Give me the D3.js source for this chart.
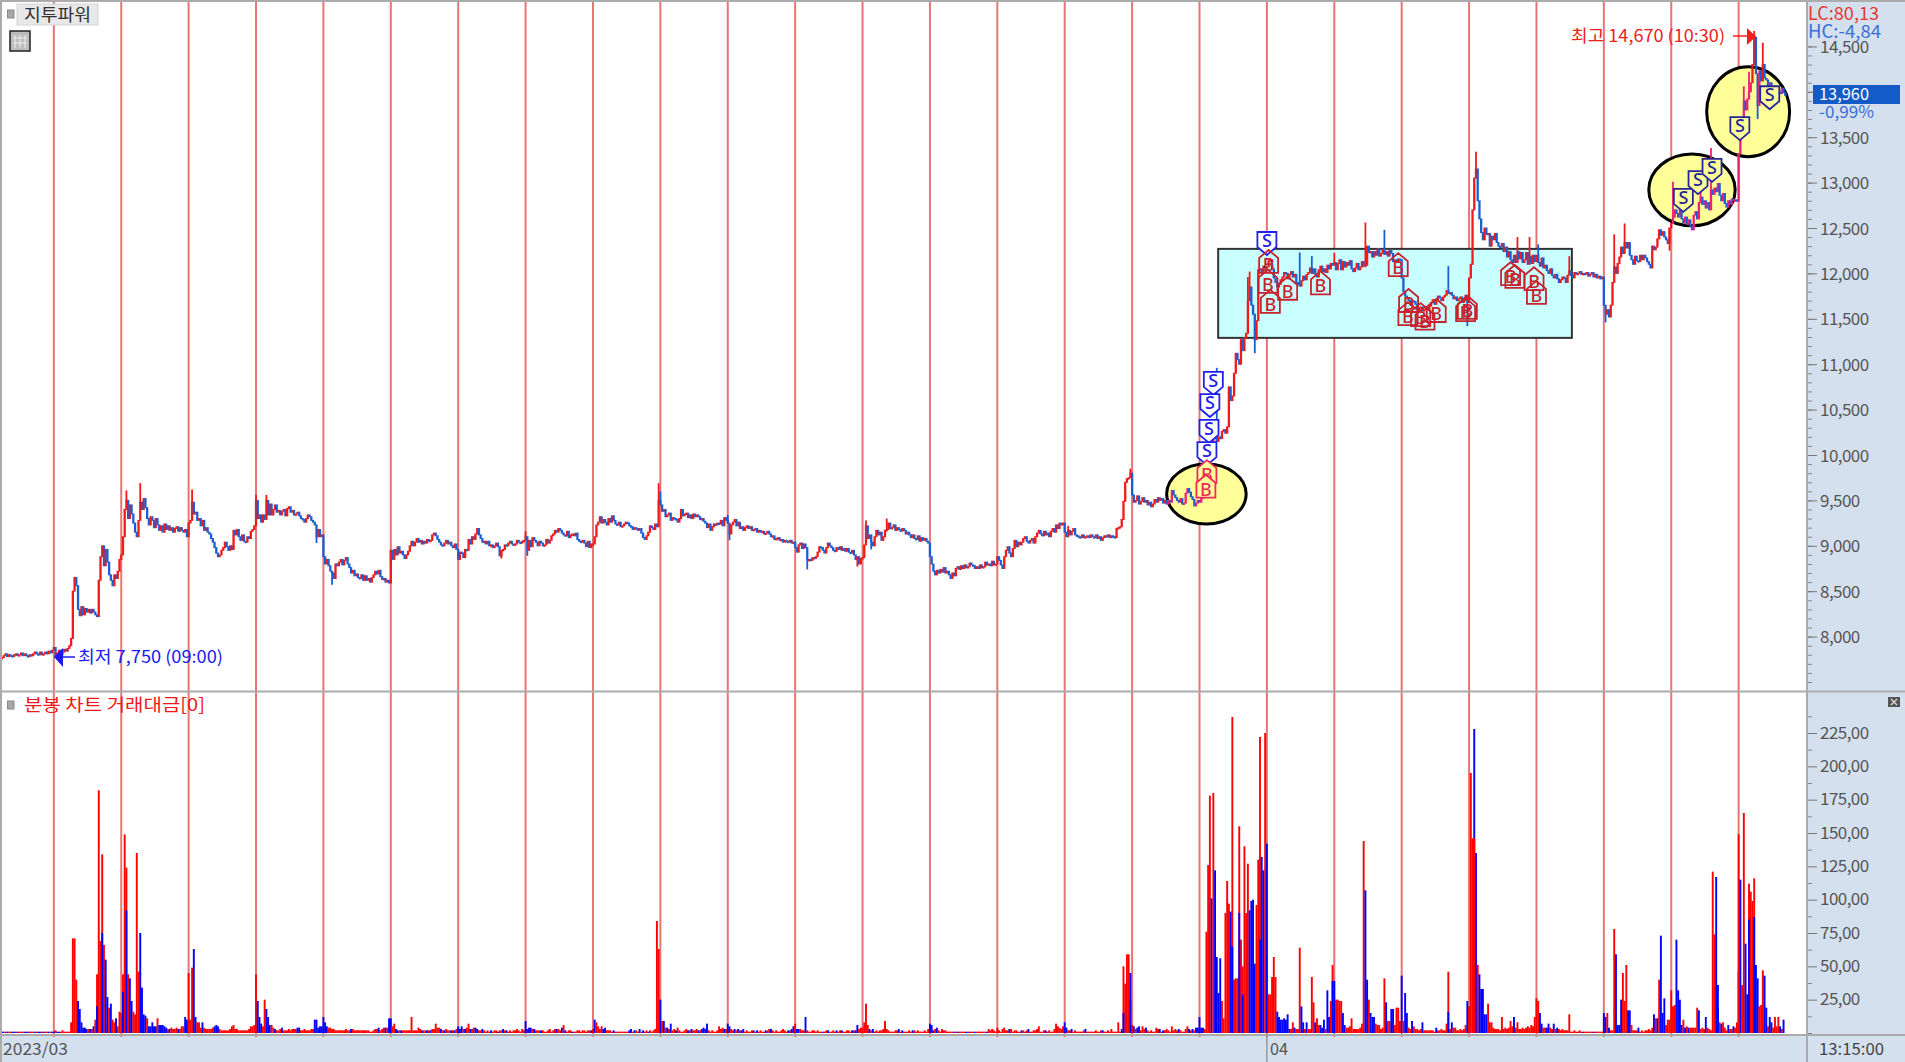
<!DOCTYPE html>
<html><head><meta charset="utf-8"><style>html,body{margin:0;padding:0;background:#fff;overflow:hidden}svg{display:block}text{font-family:"Noto Sans CJK KR","Noto Sans",sans-serif;font-weight:400}</style>
<script src="https://cdn.jsdelivr.net/npm/d3@7/dist/d3.min.js"></script></head><body><svg id="c" width="1905" height="1062"></svg>
<script>
const title="지투파워", volTitle="분봉 차트 거래대금[0]", hiLabel="최고 14,670 (10:30)", loLabel="최저 7,750 (09:00)";
const lastPrice="13,960", lastPct="-0,99%", lcLabel="LC:80,13", hcLabel="HC:-4,84", monthA="2023/03", monthB="04", timeLabel="13:15:00";
const priceMajor=[8000,8500,9000,9500,10000,10500,11000,11500,12000,12500,13000,13500,14000,14500];
const volMajor=[25,50,75,100,125,150,175,200,225];
const barsFirstDay=30, barsPerDay=39, monthBDay=19;
const p00=[7770,7790,7810,7780,7800,7790,7780,7800,7810,7790,7800,7820,7790,7810,7790,7780,7800,7790,7810,7830,7810,7800,7830,7800,7810,7830,7810,7840,7820,7850];
const p01=[7880,7780,7820,7850,7800,7830,7860,7840,7870,7900,7980,8500,8650,8560,8300,8230,8330,8240,8310,8270,8300,8260,8300,8270,8240,8220,8620,8880,9000,8780,8960,8820,8680,8620,8560,8680,8640,8720,8850];
const p02=[8900,9100,9400,9500,9300,9450,9350,9250,9150,9100,9280,9480,9400,9520,9420,9300,9230,9320,9280,9200,9300,9230,9170,9220,9150,9240,9180,9220,9170,9200,9150,9190,9210,9160,9200,9170,9150,9180,9100];
const p03=[9250,9280,9480,9350,9370,9280,9300,9220,9280,9170,9200,9150,9130,9080,9040,8980,8920,8880,8900,8950,8980,9040,8990,8950,9000,8960,9170,9120,9180,9100,9060,9120,9050,9040,9100,9080,9160,9180,9220];
const p04=[9500,9300,9340,9260,9340,9290,9500,9340,9460,9340,9400,9450,9370,9390,9340,9380,9400,9330,9410,9430,9370,9390,9340,9350,9370,9330,9300,9290,9260,9300,9340,9320,9280,9260,9230,9100,9180,9100,9120];
const p05=[8880,8800,8850,8780,8720,8700,8640,8800,8780,8820,8850,8790,8840,8870,8800,8760,8700,8730,8670,8690,8650,8640,8680,8620,8670,8620,8640,8600,8650,8680,8720,8690,8730,8660,8630,8640,8600,8620,8590];
const p06=[8950,8850,8960,8900,8990,8920,8940,8900,8860,8900,8940,9000,9050,9000,9040,9080,9040,9060,9020,9050,9030,9070,9050,9060,9120,9140,9110,9070,9040,9010,9000,9030,9060,9020,9040,9000,8980,9020,8960];
const p07=[8850,8930,8920,8870,8960,8950,9070,9020,9100,9070,9130,9190,9120,9080,9040,9050,9020,9050,9000,9010,8980,9000,9030,8990,8890,8950,8960,9010,9000,9030,9050,9020,9010,9020,9060,9040,9030,9050,9060];
const p08=[9100,8950,9060,8990,9090,9060,9040,9000,9050,9030,9000,9010,9070,9030,9060,9110,9130,9170,9150,9190,9170,9140,9120,9110,9160,9090,9120,9130,9110,9140,9070,9050,9040,9060,9030,8990,9050,8980,9020];
const p09=[9020,9100,9230,9260,9320,9250,9290,9260,9230,9300,9260,9330,9280,9240,9230,9260,9210,9220,9240,9260,9250,9220,9210,9180,9200,9190,9170,9190,9140,9090,9070,9110,9150,9220,9200,9180,9240,9210,9500];
const p10=[9450,9380,9400,9320,9340,9360,9280,9310,9300,9290,9260,9300,9400,9330,9350,9360,9310,9340,9300,9350,9320,9340,9320,9290,9300,9270,9250,9200,9240,9170,9210,9240,9230,9250,9240,9280,9220,9310,9280];
const p11=[9250,9130,9230,9260,9290,9220,9260,9190,9210,9170,9200,9220,9190,9210,9170,9180,9190,9150,9170,9150,9160,9130,9140,9160,9130,9100,9110,9070,9080,9090,9060,9070,9040,9060,9050,9040,9060,9030,9040];
const p12=[8980,8930,9010,9030,8970,9020,8980,8850,8850,8840,8870,8860,8880,8930,8990,8980,8950,8920,8980,9030,9000,8980,8950,8940,8980,8960,8990,8950,8970,8940,8970,8930,8920,8950,8900,8850,8880,8800,8860];
const p13=[8870,9010,9220,9080,9120,9040,9000,9100,9170,9120,9150,9060,9100,9170,9180,9250,9190,9200,9230,9170,9200,9180,9160,9190,9170,9130,9150,9120,9090,9120,9080,9070,9110,9050,9090,9060,9080,9050,9030];
const p14=[8880,8800,8720,8680,8730,8700,8740,8710,8760,8700,8720,8680,8640,8700,8670,8750,8770,8740,8780,8750,8790,8760,8770,8810,8790,8780,8750,8770,8750,8790,8760,8770,8820,8790,8800,8780,8830,8790,8800];
const p15=[8880,8840,8790,8750,8880,8950,8990,8920,8880,8970,9060,8990,9040,9010,9040,9080,9100,9050,9030,9060,9080,9030,9100,9140,9170,9130,9110,9160,9120,9140,9100,9160,9190,9150,9230,9190,9250,9230,9250];
const p16=[9150,9100,9170,9120,9160,9190,9120,9110,9100,9090,9120,9090,9100,9110,9090,9120,9100,9090,9120,9080,9100,9060,9090,9110,9100,9120,9090,9110,9100,9090,9190,9200,9210,9290,9490,9700,9740,9750,9800];
const p17=[9560,9480,9500,9550,9460,9490,9530,9480,9500,9450,9480,9430,9460,9510,9480,9530,9500,9520,9470,9500,9460,9500,9480,9610,9560,9530,9500,9480,9520,9460,9470,9580,9630,9590,9540,9510,9440,9470,9500];
const p18=[9480,9520,9560,9620,9700,9800,9950,10100,10180,10200,10150,10200,10180,10260,10280,10240,10310,10750,10600,10650,10900,11120,11050,11000,11270,11150,11290,11340,11700,11850,11650,11550,11270,11480,12040,12050,12000,12080,12070];
const p19=[12070,12140,12150,12050,11950,11900,11850,11880,11930,11960,12010,12000,11940,11990,12020,11960,11990,11900,11880,11860,11920,11970,11930,11990,12010,12060,12000,12050,11990,11960,12040,12080,12020,12050,12010,12090,12050,12110,12090];
const p20=[12120,12040,12110,12150,12040,12130,12070,12120,12090,12140,12050,12020,12060,12110,12040,12070,12130,12080,12090,12300,12230,12240,12180,12240,12200,12270,12190,12220,12260,12210,12240,12190,12260,12220,12130,12150,12120,12160,12150];
const p21=[11950,11800,11750,11730,11700,11650,11700,11690,11660,11600,11620,11630,11590,11600,11620,11600,11640,11680,11710,11660,11700,11750,11730,11700,11740,11760,11810,11780,11790,11760,11720,11740,11700,11720,11740,11680,11700,11760,11680];
const p22=[11950,12100,12700,13050,13150,12800,12600,12450,12370,12500,12430,12440,12300,12410,12370,12440,12340,12300,12290,12330,12240,12290,12180,12240,12150,12120,12200,12120,12240,12160,12230,12120,12150,12230,12100,12190,12110,12200,12130];
const p23=[12200,12120,12080,12170,12060,12090,12030,12000,12050,11980,11950,11990,11940,11900,11930,11960,11950,11900,11980,12030,11980,11950,12010,11990,12000,12020,11990,12000,11990,12010,11970,11990,12010,11960,11990,11950,11970,11940,11960];
const p24=[11650,11550,11600,11520,11650,11900,12070,12000,12110,12180,12290,12220,12340,12280,12340,12200,12150,12100,12190,12140,12130,12200,12150,12200,12170,12130,12100,12060,12300,12260,12290,12380,12480,12420,12460,12400,12370,12330,12500];
const p25=[12550,12620,12700,12660,12620,12700,12600,12560,12620,12540,12590,12520,12480,12640,12680,12600,12780,12840,12760,12800,12720,12780,12700,12920,12870,12940,12900,12990,12860,12800,12880,12770,12730,12800,12760,12820,12800,12810,12800];
const p26=[13320,13500,13700,13900,13800,13920,14000,14100,14300,14600,14200,13850,14230,14120,14300,14150,14130,14050,14100,14020,14060,14000,13940,14000,13980,14040,13990,13960];
const priceDays=[p00,p01,p02,p03,p04,p05,p06,p07,p08,p09,p10,p11,p12,p13,p14,p15,p16,p17,p18,p19,p20,p21,p22,p23,p24,p25,p26];
// extreme prints [day, bar, price]
const wicks=[[2,3,9610],[2,11,9690],[3,2,9620],[4,0,9560],[4,6,9560],[4,35,9030],[5,5,8570],[6,0,8800],[7,25,8860],[8,0,9160],[8,1,8890],[9,38,9690],[10,0,9600],[11,0,9340],[11,1,9060],[12,7,8740],[12,36,8770],[13,2,9280],[13,14,9300],[13,5,8960],[14,12,8640],[16,38,9850],[16,2,9220],[18,28,11960],[18,17,10450],[18,24,11080],[18,32,11120],[18,10,10960],[18,29,12020],[19,19,12230],[19,26,12190],[20,0,12230],[20,18,12560],[20,29,12480],[21,27,12080],[21,38,11420],[22,4,13340],[22,28,12400],[22,35,12400],[23,19,12190],[23,1,12320],[24,6,12430],[24,12,12550],[24,1,11460],[24,38,12250],[25,1,13010],[25,23,13380],[25,17,12960],[26,9,14670],[26,11,13700],[26,14,14540],[26,6,14220],[26,3,14060],[26,0,13280]];
// volume: positive = up bar (red), negative = down bar (blue)
const v00=[-1,-1,1,-1,1,1,-1,-1,1,-1,1,1,1,-1,-1,1,-1,1,1,-1,1,-1,-1,1,-1,1,1,-1,1,-1];
const v01=[-1,2,-1,-1,1,2,1,1,1,1,8,71,71,40,-24,-18,-8,-4,-4,-3,3,-3,3,-5,10,44,182,69,134,66,-55,-27,19,-22,10,8,-11,5,16];
const v02=[15,44,149,124,44,-41,-24,16,14,135,46,-75,-34,-14,-13,11,-5,-5,-8,-5,-5,11,-6,-6,-6,-5,-4,3,-3,4,3,3,4,-3,3,5,5,-12,-10];
const v03=[45,10,49,-63,-12,8,8,4,-8,4,3,3,3,3,4,-5,-6,-5,3,2,2,2,2,2,3,5,6,3,3,2,2,2,2,2,2,3,5,5,6];
const v04=[44,-24,-12,-7,5,25,-18,-12,-6,6,4,-3,2,2,3,-4,2,2,2,3,2,3,3,3,-4,-4,2,2,3,2,2,2,3,3,-10,-10,-4,-5,-5];
const v05=[-12,-8,-5,4,4,3,3,2,2,2,2,2,2,3,2,2,-3,3,2,2,2,2,2,2,2,2,2,1,1,2,3,3,-4,2,3,4,-4,4,-11];
const v06=[-11,5,7,-3,-2,2,-2,2,2,2,2,2,12,2,2,2,4,3,-2,2,2,-2,2,-2,3,3,7,4,4,-3,2,-2,3,2,2,-2,2,-2,3];
const v07=[-5,-3,-5,3,-3,4,7,-3,3,4,-4,-3,2,2,-3,2,1,2,1,-2,1,2,2,-1,2,2,-3,2,-2,1,2,1,2,2,3,2,1,3,2];
const v08=[-9,-3,-4,-4,3,-3,2,2,2,-2,2,1,1,2,3,1,2,3,-3,3,2,-4,6,-2,1,2,2,-1,1,1,2,2,1,2,2,1,2,2,-2];
const v09=[3,-10,8,5,3,5,-3,-4,2,2,2,1,-2,1,1,1,1,1,1,1,1,-2,-3,1,-2,2,1,-3,1,-2,1,2,-1,2,1,2,3,84,63];
const v10=[-25,9,-9,4,-4,3,-7,2,3,-2,4,2,1,1,2,3,-2,2,-3,2,2,3,-2,2,-3,-4,-3,-7,2,1,2,1,1,2,5,3,4,-3,3];
const v11=[-7,-5,3,2,-3,2,-3,2,-2,-3,1,2,1,1,2,-2,1,-2,1,2,1,1,-2,2,3,-3,2,1,2,1,1,2,3,2,1,-2,2,-3,-5];
const v12=[7,-3,-3,3,2,2,-12,2,1,1,2,2,1,2,1,1,-1,1,2,-2,1,1,2,1,-2,1,2,-2,1,1,2,2,1,-2,2,-2,-6,3,4];
const v13=[4,8,22,6,-3,2,-3,1,2,1,2,2,3,9,3,2,1,1,1,2,2,-3,1,-2,1,1,1,2,1,-2,2,1,2,1,1,1,2,1,3];
const v14=[-7,-6,-2,3,-4,2,1,3,2,2,1,1,1,1,-1,1,-1,1,1,1,1,-1,1,-1,1,1,-1,1,1,1,1,1,1,-1,3,2,3,2,1];
const v15=[4,2,1,3,4,2,2,-3,3,1,2,2,1,1,-2,2,1,2,-3,1,1,2,2,3,5,1,1,2,-2,1,2,1,1,3,7,5,4,3,5];
const v16=[-8,-4,2,2,-3,1,2,1,1,1,1,2,-3,1,1,1,1,1,2,1,1,2,-2,1,1,2,1,3,1,1,1,8,1,-3,50,37,59,59,25];
const v17=[6,-5,3,-4,-5,2,5,3,-4,2,1,2,1,1,4,3,-3,1,-2,2,3,2,1,5,2,3,2,-3,2,1,1,3,5,-3,2,-3,2,-4,-4];
const v18=[-12,-4,-4,3,76,126,178,-101,180,-122,-57,-30,-56,24,11,90,114,97,65,237,40,41,41,155,70,50,140,90,127,-92,-99,-100,-52,96,130,222,-132,-122,225];
const v19=[-142,29,29,42,57,42,-16,-12,-10,-10,-11,-10,-14,-3,3,8,-4,3,3,64,-20,-8,3,-8,3,3,42,23,-8,11,6,-6,-4,-10,3,-32,-12,24,51];
const v20=[-39,25,25,24,24,-15,-6,4,4,5,11,3,3,3,3,4,7,144,-107,-40,25,-15,-12,-12,7,6,6,3,4,41,-23,9,9,-18,-18,6,19,19,9];
const v21=[-43,9,-30,-15,4,3,-9,5,3,3,2,3,-8,2,2,2,2,2,2,1,-4,2,2,3,2,2,7,46,3,-8,4,4,2,2,3,2,3,6,-24];
const v22=[20,195,146,-228,-135,51,-44,-33,-33,-14,-14,22,8,8,4,3,3,3,2,12,3,4,3,4,9,5,-12,4,8,3,3,4,3,4,5,4,6,5,12];
const v23=[26,24,-15,-7,4,4,-4,-7,4,3,-7,3,-4,3,2,3,2,2,2,14,1,1,2,1,1,2,1,-1,1,1,1,1,1,-1,1,1,1,1,1];
const v24=[-15,-12,15,-4,2,2,78,-59,-6,-6,-25,45,24,51,-17,-17,6,2,2,2,-4,1,2,1,2,2,3,2,4,-14,11,-11,40,-73,-15,-26,6,10,10];
const v25=[32,20,21,-70,-32,-25,-6,10,-4,5,-4,4,4,4,4,19,-17,3,4,3,-12,4,3,2,121,74,-117,-19,8,-7,8,4,2,-6,3,3,-5,4,8];
const v26=[149,-115,36,165,-67,-29,112,106,99,116,-51,-41,20,21,47,-43,-19,5,-12,-8,4,12,5,12,-5,3,-10];
const volDays=[v00,v01,v02,v03,v04,v05,v06,v07,v08,v09,v10,v11,v12,v13,v14,v15,v16,v17,v18,v19,v20,v21,v22,v23,v24,v25,v26];
// shorter prints drawn over the taller one in the same slot [day, bar, value]
const volOver=[[1,28,-75],[1,25,-20],[2,1,-31],[2,3,-92],[16,34,-15],[16,38,-45],[18,18,-91],[18,23,-90],[18,25,-29],[18,19,-65],[18,35,-70],[19,38,-39],[21,27,-16],[22,3,146],[25,27,-36],[26,6,-85],[26,8,51],[26,9,-87],[26,0,46]];
// trade signals
const sigKind=["S","B","B","B","B","B","B","B","B","B","B","B","B","B","B","B","B","B","S","S","S","S","B","B","S","S","S","S","S"];
const sigBar=[732,733,732.6,734,744,763,808,814,813.6,823.5,821,830,847,848,873,875.5,886.6,888,701,699,698.5,697.3,697.3,696.7,973,981.5,989.6,1005.7,1023];
const sigPrice=[12335,12115,11895,11675,11820,11880,12080,11685,11540,11490,11530,11575,11585,11610,11980,11950,11925,11775,10795,10550,10265,10020,9800,9640,12810,13005,13140,13600,13940];
// annotation shapes, in chart units [bar, price]
const boxCorners=[[703.8,12270],[908.5,11290]];
const circles=[[1010.5,13780,24,495],[978,12920,25,395],[697,9570,23,330]];

const svg=d3.select("#c"),W=1905,H=1062,AX=1806,barPx=1.728;
const N=barsFirstDay+barsPerDay*26+p26.length;
const x=d3.scaleLinear().domain([0,N]).range([2,2+N*barPx]);
const yP=d3.scaleLinear().domain([8000,14500]).range([636.6,46.4]);
const yV=d3.scaleLinear().domain([0,225]).range([1033,733]);
const dayStart=d=>d===0?0:barsFirstDay+barsPerDay*(d-1);
const hl=new Map(wicks.map(w=>[w[0]+"-"+w[1],w[2]]));

svg.append("rect").attr("width",W).attr("height",H).attr("fill","#fff");
// panels
svg.append("rect").attr("x",AX).attr("y",0).attr("width",W-AX).attr("height",H).attr("fill","#d5e0ef");
svg.append("rect").attr("x",0).attr("y",1035).attr("width",W).attr("height",27).attr("fill","#d5e0ef");
// day lines
const days=d3.range(1,27).map(dayStart);
svg.append("g").selectAll("line").data(days).join("line")
 .attr("x1",d=>x(d)).attr("x2",d=>x(d)).attr("y1",2).attr("y2",1037).attr("stroke","#e97474").attr("stroke-width",2);

// annotations
const boxX=x(boxCorners[0][0]),boxY=yP(boxCorners[0][1]);
svg.append("rect").attr("x",boxX).attr("y",boxY).attr("width",x(boxCorners[1][0])-boxX).attr("height",yP(boxCorners[1][1])-boxY)
 .attr("fill","#c9ffff").attr("stroke","#333").attr("stroke-width",2);
const ell=circles.map(c=>({cx:x(c[0]),cy:yP(c[1]),rx:x(c[2])-x(0),ry:yP(0)-yP(c[3])}));
svg.append("g").selectAll("ellipse").data(ell).join("ellipse")
 .attr("cx",d=>d.cx).attr("cy",d=>d.cy).attr("rx",d=>d.rx).attr("ry",d=>d.ry)
 .attr("fill","#ffff99").attr("stroke","#000").attr("stroke-width",3);
const inEll=(px,py)=>ell.some(e=>((px-e.cx)/e.rx)**2+((py-e.cy)/e.ry)**2<1);

// price bars
const bars=[];let prev=null;
priceDays.forEach((arr,d)=>arr.forEach((c,i)=>{const o=prev===null?c:prev;prev=c;bars.push({d,i,idx:dayStart(d)+i,o,c,w:hl.get(d+"-"+i)});}));
const up=b=>b.c>=b.o;
const colP=b=>up(b)?(inEll(x(b.idx),yP(b.c))?"#ec2078":"#f01a1a"):"#1a5fd2";
const gP=svg.append("g");
gP.selectAll("rect").data(bars).join("rect")
 .attr("x",b=>x(b.idx)-1.15).attr("width",2.3)
 .attr("y",b=>Math.min(yP(b.o),yP(b.c))-.5).attr("height",b=>Math.max(2.4,Math.abs(yP(b.o)-yP(b.c))+1))
 .attr("fill",colP);
gP.selectAll("line").data(bars.filter(b=>b.w)).join("line")
 .attr("x1",b=>x(b.idx)).attr("x2",b=>x(b.idx))
 .attr("y1",b=>yP(b.c)).attr("y2",b=>yP(b.w)).attr("stroke",colP).attr("stroke-width",1.8);

// volume bars
const vols=[];volDays.forEach((arr,d)=>arr.forEach((v,i)=>vols.push({idx:dayStart(d)+i,v})));
volOver.forEach(o=>vols.push({idx:dayStart(o[0])+o[1],v:o[2]}));
svg.append("g").selectAll("rect").data(vols).join("rect")
 .attr("x",d=>x(d.idx)-.95).attr("width",1.9)
 .attr("y",d=>yV(Math.abs(d.v))).attr("height",d=>yV(0)-yV(Math.abs(d.v)))
 .attr("fill",d=>d.v>=0?"#ff0000":"#0000ff");

// signals
const sigs=sigKind.map((k,i)=>({k,px:x(sigBar[i]),py:yP(sigPrice[i])}));
const sigG=svg.append("g").selectAll("g").data(sigs).join("g").attr("transform",d=>`translate(${d.px},${d.py})`);
const strokeOf=d=>inEll(d.px,d.py)?(d.k==="S"?"#26269a":"#ee2a5c"):(d.k==="S"?"#2020ee":"#c8222c");
sigG.append("path").attr("d",d=>d.k==="S"?"M-9.5,-11L9.5,-11L9.5,4L0,12L-9.5,4Z":"M0,-13L9.5,-5L9.5,10L-9.5,10L-9.5,-5Z")
 .attr("fill",d=>inEll(d.px,d.py)?"#ffff99":(d.k==="S"?"#fff":"none")).attr("stroke",strokeOf).attr("stroke-width",1.8);
sigG.append("text").attr("text-anchor","middle").attr("y",d=>d.k==="S"?4:8).text(d=>d.k)
 .attr("fill",strokeOf).style("font-size","18px").style("font-family","'Noto Sans'").style("font-weight",500);

// borders
const gray="#ababab";
[[0,0,W,2],[0,0,2,H],[0,690.5,W,2],[0,1034,W,2],[AX,0,2,H]].forEach(r=>svg.append("rect").attr("x",r[0]).attr("y",r[1]).attr("width",r[2]).attr("height",r[3]).attr("fill",gray));

// axes
const fmtV=d=>d.toFixed(2).replace(".",",");
function axis(scale,major,minor,fmt,dy){
 const a=svg.append("g").attr("transform",`translate(${AX+2},0)`);
 a.append("g").call(d3.axisRight(scale).tickValues(minor).tickSize(4).tickFormat("")).call(g=>g.select(".domain").remove()).selectAll("line").attr("stroke","#888");
 const m=a.append("g").call(d3.axisRight(scale).tickValues(major).tickSize(9).tickPadding(3).tickFormat(fmt));
 m.select(".domain").remove();m.selectAll("line").attr("stroke","#777");
 m.selectAll("text").attr("fill","#555").attr("dy",dy).style("font-size","17px").style("font-family","'Noto Sans CJK KR'").style("letter-spacing","-0.55px");
}
axis(yP,priceMajor,d3.range(7500,14900,100),d3.format(","),"0.36em");
axis(yV,volMajor,[0].concat(d3.range(12.5,240,25)),fmtV,"0.3em");

// text
function label(tx,ty,s,col,size,len){const t=svg.append("text").attr("x",tx).attr("y",ty).attr("fill",col).style("font-size",size+"px").text(s);if(len)t.attr("textLength",len).attr("lengthAdjust","spacingAndGlyphs");return t;}
svg.append("rect").attr("x",1808).attr("y",2).attr("width",95).attr("height",38).attr("fill","#d5e0ef");
label(1808,20,lcLabel,"#e8382c",18,71);
label(1808,38,hcLabel,"#3a6ed8",18,73);
svg.append("rect").attr("x",1813).attr("y",85).attr("width",87).attr("height",19).attr("fill","#135cc8");
label(1819,100,lastPrice,"#fff",17,50);
label(1819,118,lastPct,"#3a6ed8",17,55);
label(1571,42,hiLabel,"#f02020",17,154);
label(78,663,loLabel,"#1a1af0",17,145);
label(24,711,volTitle,"#f01818",17,181);
label(3,1055,monthA,"#555",17,65);
label(1270,1055,monthB,"#555",17,18);
label(1819,1055,timeLabel,"#444",17,65);
svg.append("line").attr("x1",x(dayStart(monthBDay))).attr("x2",x(dayStart(monthBDay))).attr("y1",1035).attr("y2",1062).attr("stroke","#888").attr("stroke-width",1.2);

// arrows
svg.append("line").attr("x1",1733).attr("x2",1750).attr("y1",36).attr("y2",36).attr("stroke","#f02020").attr("stroke-width",1.5);
svg.append("path").attr("d","M1747,28L1756,36.5L1747,45Z").attr("fill","#f02020");
svg.append("line").attr("x1",60).attr("x2",75).attr("y1",657).attr("y2",657).attr("stroke","#1a1af0").attr("stroke-width",1.5);
svg.append("path").attr("d","M54,657L63,648L63,667Z").attr("fill","#1a1af0");

// toolbar items
svg.append("rect").attr("x",7.5).attr("y",10).attr("width",6.5).attr("height",8).attr("fill","#a8a8a8").attr("stroke","#888");
svg.append("rect").attr("x",7.5).attr("y",701).attr("width",6.5).attr("height",8).attr("fill","#a8a8a8").attr("stroke","#888");
svg.append("rect").attr("x",17).attr("y",4).attr("width",81).attr("height",21).attr("fill","#e8e8e8").attr("stroke","#d4d4d4");
label(24,21,title,"#333",17,67);
svg.append("rect").attr("x",10).attr("y",31).attr("width",20).attr("height",20).attr("fill","#bdbdbd").attr("stroke","#222").attr("stroke-width",1.5);
[15,20,25].forEach(v=>svg.append("line").attr("x1",v).attr("x2",v).attr("y1",35).attr("y2",48).attr("stroke","#eee"));
[38,43].forEach(v=>svg.append("line").attr("x1",13).attr("x2",27).attr("y1",v).attr("y2",v).attr("stroke","#eee"));
svg.append("rect").attr("x",1888).attr("y",697).attr("width",12).attr("height",10).attr("fill","#555");
svg.append("path").attr("d","M1891,699L1897,705M1897,699L1891,705").attr("stroke","#ddd").attr("stroke-width",1.2);
</script></body></html>
